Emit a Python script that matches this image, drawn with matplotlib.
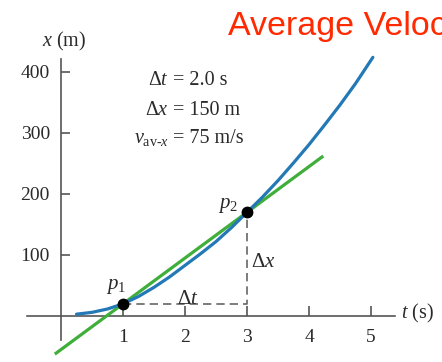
import matplotlib
matplotlib.use("Agg")
import matplotlib.pyplot as plt

plt.rcParams['font.family'] = ['Liberation Serif', 'DejaVu Serif']
plt.rcParams['mathtext.fontset'] = 'custom'
plt.rcParams['mathtext.rm'] = 'Liberation Serif'
plt.rcParams['mathtext.it'] = 'Liberation Serif:italic'

# position vs time curve (s, m)
t_curve = [0.25, 0.5, 0.75, 1.0, 1.25, 1.5, 1.75, 2.0, 2.25, 2.5, 2.75, 3.0,
           3.25, 3.5, 3.75, 4.0, 4.25, 4.5, 4.75, 5.03]
x_curve = [3, 6, 11.5, 20, 32, 47, 64, 83, 102, 122, 145, 170,
           195, 222, 251, 281, 313, 346, 381, 424]

# the two points and the secant through them
p_t = [1.0, 3.0]
p_x = [20, 170]
secant_t = [-0.1, 4.23]
v_avg = (p_x[1] - p_x[0]) / (p_t[1] - p_t[0])

t_ticks = [1, 2, 3, 4, 5]
x_ticks = [100, 200, 300, 400]

ink = '#2a2a2a'
axis_col = '#555555'
blue = '#2379b5'
green = '#3fae3a'

fig = plt.figure(figsize=(4.42, 3.62), dpi=100)
ax = fig.add_axes([0, 0, 1, 1])
ax.set_xlim(-0.984, 6.145)
ax.set_ylim(-75.4, 518)

for s in ['top', 'right']:
    ax.spines[s].set_visible(False)
ax.spines['left'].set_position(('data', 0))
ax.spines['bottom'].set_position(('data', 0))
ax.spines['left'].set_bounds(-39, 421)
ax.spines['bottom'].set_bounds(-0.55, 5.39)
for s in ['left', 'bottom']:
    ax.spines[s].set_color(axis_col)
    ax.spines[s].set_linewidth(1.2)

ax.set_xticks(t_ticks)
ax.set_yticks(x_ticks)
ax.set_xticklabels([str(v) for v in t_ticks])
ax.set_yticklabels([str(v) for v in x_ticks])
ax.tick_params(axis='x', direction='in', length=7.5, width=1.2, color=axis_col,
               labelsize=14, labelcolor=ink, pad=9)
ax.tick_params(axis='y', direction='in', length=6.5, width=1.2, color=axis_col,
               labelsize=14, labelcolor=ink, pad=8)

# secant line slope = average velocity
secant_x = [p_x[0] + v_avg * (tt - p_t[0]) for tt in secant_t]
ax.plot(secant_t, secant_x, color=green, lw=2.3, solid_capstyle='butt', zorder=3)
ax.plot(t_curve, x_curve, color=blue, lw=2.3, solid_capstyle='round', zorder=4)

# delta t and delta x legs
ax.plot([p_t[0], p_t[1], p_t[1]], [p_x[0], p_x[0], p_x[1]], color='#666666',
        lw=1.2, ls=(0, (5, 3)), zorder=2)
ax.plot(p_t, p_x, 'o', color='black', ms=7.5, zorder=5)

ax.text(0.05, 450, r'$x$ (m)', ha='center', va='center', fontsize=14.5, color=ink)
ax.text(5.48, 4, r'$t$ (s)', ha='left', va='center', fontsize=14.5, color=ink)

ax.text(0.887, 48, r'$p_1$', ha='center', va='center', fontsize=15, color=ink)
ax.text(2.69, 181, r'$p_2$', ha='center', va='center', fontsize=15, color=ink)
ax.text(2.05, 27, r'$\Delta t$', ha='center', va='center', fontsize=15, color=ink)
ax.text(3.07, 88, r'$\Delta x$', ha='left', va='center', fontsize=15, color=ink)

lefts = [r'$\Delta t$', r'$\Delta x$', r'$v_{\mathrm{av}\text{-}x}$']
rights = ['= 2.0 s', '= 150 m', '= 75 m/s']
baselines = [379, 330, 284]
for l, r, b in zip(lefts, rights, baselines):
    ax.text(1.74, b, l, ha='right', va='baseline', fontsize=14.5, color=ink)
    ax.text(1.80, b, r, ha='left', va='baseline', fontsize=14.5, color=ink)

ax.text(2.69, 461, 'Average Velocity', ha='left', va='baseline', fontsize=24.5,
        family='Liberation Sans', color='#ff2a00')

fig.savefig('out.png', dpi=100)
